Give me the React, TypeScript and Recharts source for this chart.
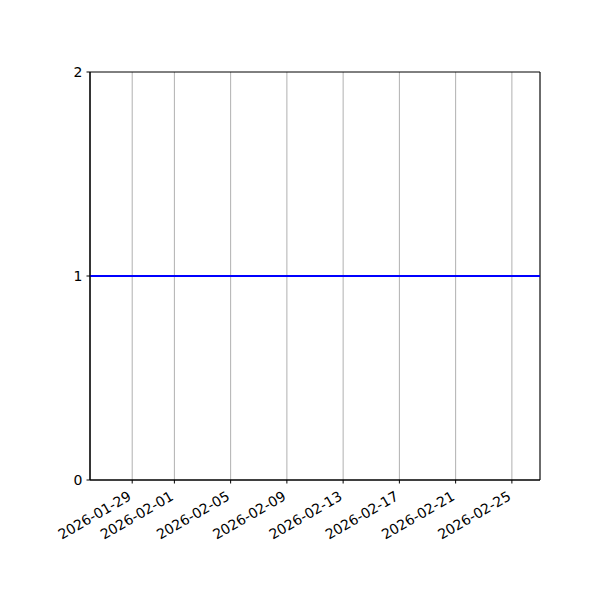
import React from "react";
import {
  LineChart,
  Line,
  XAxis,
  YAxis,
  CartesianGrid,
  ReferenceArea,
} from "recharts";

const startDate = "2026-01-26";
const endDate = "2026-02-27";
const tickDates = [
  "2026-01-29",
  "2026-02-01",
  "2026-02-05",
  "2026-02-09",
  "2026-02-13",
  "2026-02-17",
  "2026-02-21",
  "2026-02-25",
];
const seriesDates = [
  "2026-01-26", "2026-01-27", "2026-01-28", "2026-01-29", "2026-01-30", "2026-01-31",
  "2026-02-01", "2026-02-02", "2026-02-03", "2026-02-04", "2026-02-05", "2026-02-06",
  "2026-02-07", "2026-02-08", "2026-02-09", "2026-02-10", "2026-02-11", "2026-02-12",
  "2026-02-13", "2026-02-14", "2026-02-15", "2026-02-16", "2026-02-17", "2026-02-18",
  "2026-02-19", "2026-02-20", "2026-02-21", "2026-02-22", "2026-02-23", "2026-02-24",
  "2026-02-25", "2026-02-26", "2026-02-27",
];
const seriesValues = [
  1, 1, 1, 1, 1, 1, 1, 1, 1, 1, 1, 1, 1, 1, 1, 1, 1, 1, 1, 1, 1, 1, 1, 1, 1, 1, 1, 1, 1,
  1, 1, 1, 1,
];
const yTicks = [0, 1, 2];

const toTs = (d: string) => Date.parse(d + "T00:00:00Z");
const data = seriesDates.map((d, i) => ({ t: toTs(d), v: seriesValues[i] }));
const xTicks = tickDates.map(toTs);
const xDomain = [toTs(startDate), toTs(endDate)];

const fmt = (t: number) => new Date(t).toISOString().slice(0, 10);

const FONT = "DejaVu Sans";

const XTick = (props: any) => {
  const { x, y, payload } = props;
  return (
    <g transform={`translate(${x - 5},${y + 5})`}>
      <text
        x={0}
        y={0}
        dy={10}
        textAnchor="end"
        transform="rotate(-30)"
        fontFamily={FONT}
        fontSize={14}
        fill="#000"
      >
        {fmt(payload.value)}
      </text>
    </g>
  );
};

export default function App() {
  return (
    <div style={{ position: "absolute", left: 0, top: 0, width: 600, height: 600, background: "#fff" }}>
      <LineChart
        width={600}
        height={600}
        data={data}
        margin={{ top: 72, right: 60, bottom: 70, left: 50 }}
      >
        <CartesianGrid horizontal={false} stroke="#b0b0b0" strokeWidth={1} />
        <XAxis
          dataKey="t"
          type="number"
          scale="time"
          domain={xDomain}
          ticks={xTicks}
          tick={<XTick />}
          tickSize={3.5}
          height={50}
          axisLine={{ stroke: "#000", strokeWidth: 1 }}
          tickLine={{ stroke: "#000" }}
          interval={0}
          allowDataOverflow
        />
        <YAxis
          type="number"
          domain={[0, 2]}
          ticks={yTicks}
          width={40}
          tickSize={3.5}
          tickMargin={4}
          axisLine={{ stroke: "#000", strokeWidth: 1 }}
          tickLine={{ stroke: "#000" }}
          tick={{ fill: "#000", fontFamily: FONT, fontSize: 14 }}
          allowDataOverflow
        />
        <ReferenceArea
          x1={xDomain[0]}
          x2={xDomain[1]}
          y1={0}
          y2={2}
          fill="none"
          stroke="#000"
          strokeWidth={1}
          ifOverflow="visible"
        />
        <Line
          type="linear"
          dataKey="v"
          stroke="#0000ff"
          strokeWidth={2}
          dot={false}
          isAnimationActive={false}
        />
      </LineChart>
    </div>
  );
}
